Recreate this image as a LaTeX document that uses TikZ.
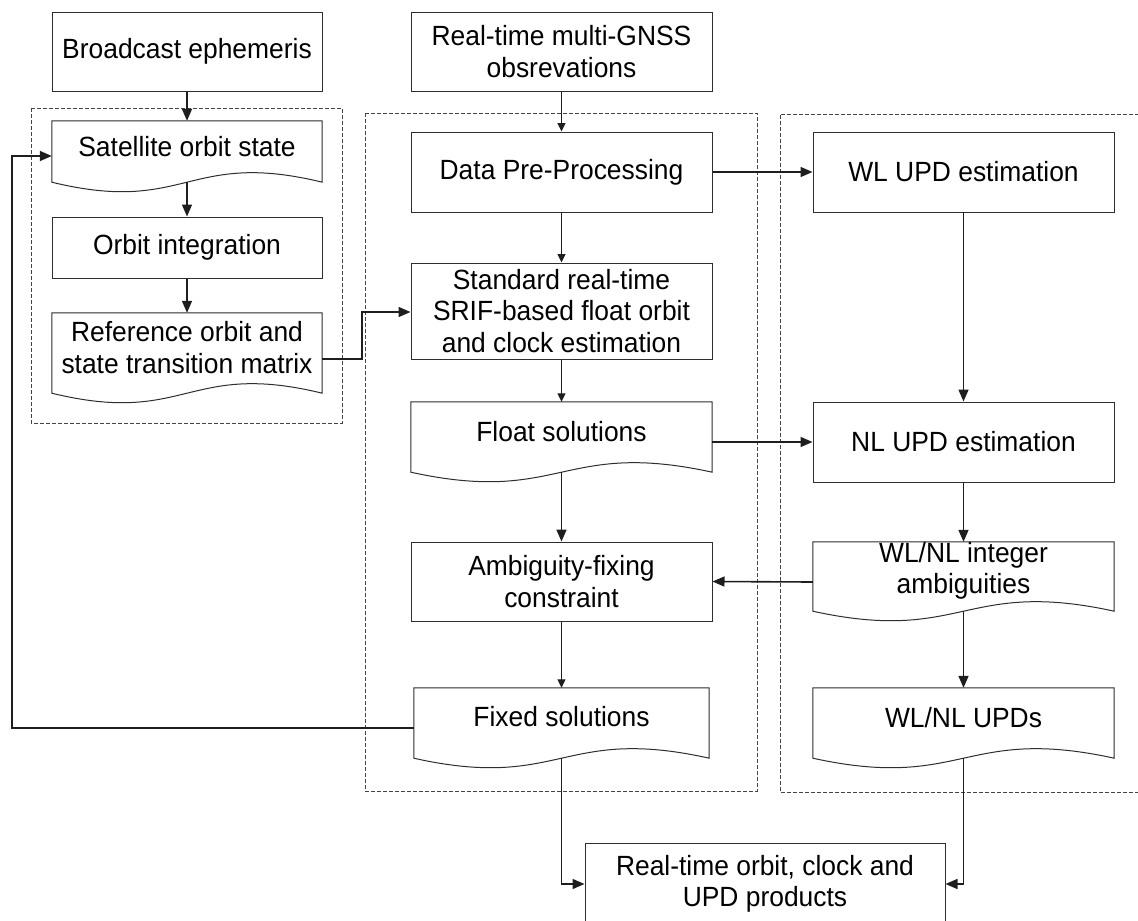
\documentclass[tikz,border=0pt]{standalone}
\usepackage{fontspec}
\setmainfont{Liberation Sans}[FakeStretch=0.95]
\usetikzlibrary{arrows.meta,calc}

\definecolor{boxc}{HTML}{2E2E2E}
\definecolor{arrc}{HTML}{1E1E1E}
\definecolor{dashc}{HTML}{444444}

\tikzset{
  box/.style={draw=boxc, line width=1pt, fill=white, align=center, inner sep=0pt},
  docarea/.style={inner sep=0pt},
  docline/.style={draw=boxc, line width=1pt, fill=white},
  lbl/.style={align=center, inner sep=0pt},
  thinar/.style={draw=arrc, line width=1pt, -{Triangle[length=8.5pt,width=8pt]}},
  thickar/.style={draw=arrc, line width=1.6pt, -{Triangle[length=12pt,width=10pt]}},
  groupbox/.style={draw=dashc, line width=0.9pt, dash pattern=on 4pt off 2pt},
}

% outline of a "document" symbol: flat top, wavy bottom
\newcommand\docshape[1]{%
  \path[docline] (#1.north west) -- (#1.north east) -- (#1.south east)
    .. controls ([yshift=33pt]#1.south) and ([yshift=-33pt]#1.south) ..
    (#1.south west) -- cycle;}

\begin{document}
\begin{tikzpicture}[x=1pt, y=-1pt, font=\fontsize{27.8}{31.5}\selectfont]
\useasboundingbox (0,0) rectangle (1138,921);
\clip (0,0) rectangle (1138,921);

% dashed groups
\draw[groupbox] (31,108) rectangle (342,423);
\draw[groupbox] (365,113) rectangle (757,791);
\draw[groupbox] (1145,114) -- (780,114) -- (780,792) -- (1145,792);

% left column
\node[box, minimum width=270pt, minimum height=79pt] (be) at (187,51.5) {Broadcast ephemeris};
\node[docarea, minimum width=270pt, minimum height=61pt] (sat) at (187,151.5) {};
\docshape{sat}
\node[lbl] (satT) at ([yshift=5pt]sat.center) {Satellite orbit state};
\node[box, minimum width=270pt, minimum height=61pt] (oi) at (187,247.5) {Orbit integration};
\node[docarea, minimum width=270pt, minimum height=80pt] (ref) at (187,353) {};
\docshape{ref}
\node[lbl] (refT) at ([yshift=5.5pt]ref.center) {Reference orbit and\\state transition matrix};

% middle column
\node[box, minimum width=301pt, minimum height=79pt] (rtm) at (561.5,51.5) {Real-time multi-GNSS\\obsrevations};
\node[box, minimum width=301pt, minimum height=80pt] (dpp) at (561.5,172) {Data Pre-Processing};
\node[box, minimum width=301pt, minimum height=96pt] (std) at (561.5,311) {Standard real-time\\SRIF-based float orbit\\and clock estimation};
\node[docarea, minimum width=301pt, minimum height=70pt] (flt) at (561.5,437) {};
\docshape{flt}
\node[lbl] (fltT) at ([yshift=5pt]flt.center) {Float solutions};
\node[box, minimum width=301pt, minimum height=79pt] (amb) at (561.5,581.5) {Ambiguity-fixing\\constraint};
\node[docarea, minimum width=295pt, minimum height=70pt] (fix) at (561.5,723) {};
\docshape{fix}
\node[lbl] (fixT) at ([yshift=6pt]fix.center) {Fixed solutions};

% right column
\node[box, minimum width=301pt, minimum height=80pt] (wl) at (963.5,172) {WL UPD estimation};
\node[box, minimum width=301pt, minimum height=80pt] (nl) at (963.5,442) {NL UPD estimation};
\node[docarea, minimum width=301pt, minimum height=69pt] (int) at (963.5,576.5) {};
\docshape{int}
\node[lbl] (intT) at ([yshift=5.5pt]int.center) {WL/NL integer\\ambiguities};
\node[docarea, minimum width=301pt, minimum height=70pt] (upds) at (963.5,723) {};
\docshape{upds}
\node[lbl] (updsT) at ([yshift=5pt]upds.center) {WL/NL UPDs};

% products
\node[box, minimum width=360pt, minimum height=82pt] (prod) at (765,884) {Real-time orbit, clock and\\UPD products};

% connectors
\draw[thickar] (be) -- (sat.north);
\draw[thickar] (sat.south) -- (oi.north);
\draw[thickar] (oi) -- (ref.north);
\draw[thickar] ([yshift=-6pt]ref.east) -- ++(40,0) |- ([yshift=-1pt]std.west);

\draw[thinar] (rtm) -- (dpp);
\draw[thinar] (dpp) -- (std);
\draw[thinar] (std) -- (flt.north);
\draw[thickar] (flt.south) -- (amb.north);
\draw[thinar] (amb) -- (fix.north);

\draw[thickar] (dpp) -- (wl);
\draw[thickar] ([yshift=-5pt]flt.east) -- (nl.west);
\draw[thickar] (wl) -- (nl);
\draw[thickar] (nl) -- (int.north);
\draw[thickar] ([yshift=-5.5pt]int.west) -- (amb.east);
\draw[thickar] (int.south) -- (upds.north);

\draw[thickar] ([yshift=-5pt]fix.west) -- ++(-402,0) |- ([yshift=-4.5pt]sat.west);
\draw[thickar] (fix.south) |- (prod.west);
\draw[thickar] (upds.south) |- (prod.east);
\end{tikzpicture}
\end{document}
